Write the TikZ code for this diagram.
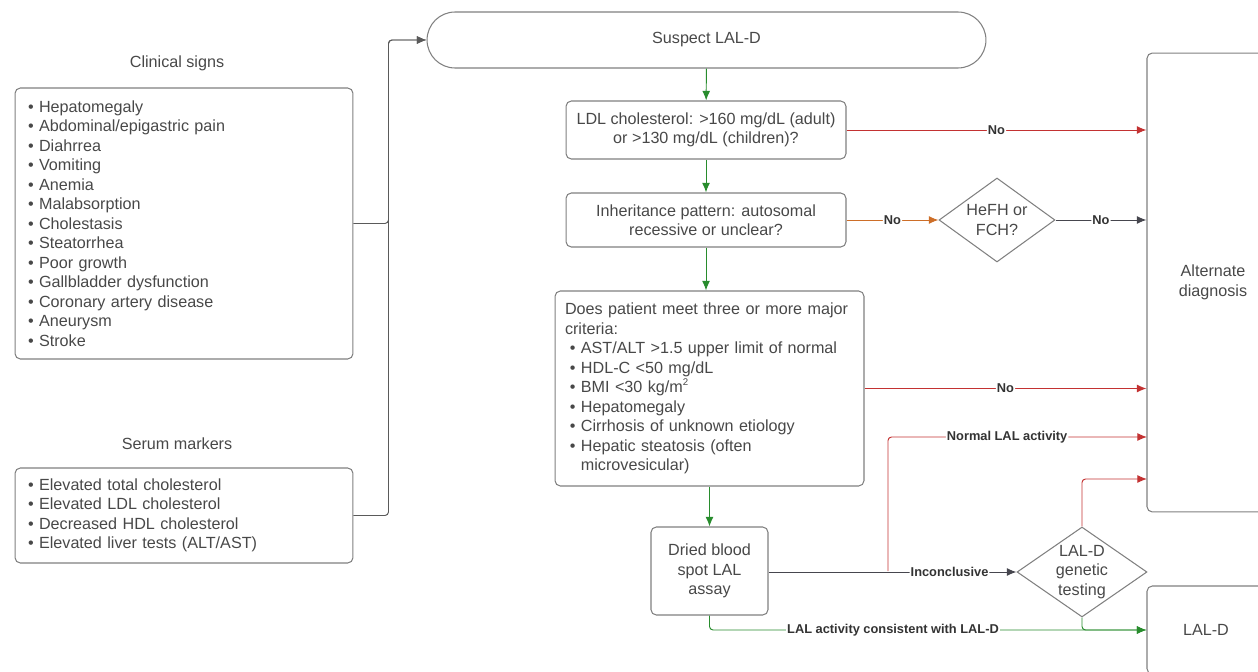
\documentclass[tikz,border=0pt]{standalone}
\usepackage{fontspec}
\setmainfont{Liberation Sans}
\usetikzlibrary{positioning,arrows.meta,shapes.geometric}
\definecolor{boxgray}{RGB}{128,128,128}
\definecolor{txtgray}{RGB}{72,72,72}
\definecolor{okgreen}{RGB}{40,140,45}
\definecolor{nored}{RGB}{195,50,50}
\definecolor{noorange}{RGB}{205,110,40}
\definecolor{linedark}{RGB}{70,70,78}
\begin{document}
\begin{tikzpicture}[x=0.02cm,y=-0.02cm, font=\fontsize{9.2}{11.1}\selectfont, text=txtgray,
 box/.style={draw=boxgray,rounded corners=3pt,line width=0.6pt,align=center,inner sep=0pt},
 list/.style={box,align=left,inner xsep=0.26cm},
 dec/.style={draw=boxgray,diamond,line width=0.6pt,align=center,inner sep=0pt},
 arr/.style={-{Latex[length=5.5pt,width=4.5pt]},line width=0.55pt,rounded corners=2pt},
 lab/.style={fill=white,font=\fontsize{7.3}{8}\selectfont\bfseries,text=black!80,inner sep=0.6pt}]
\useasboundingbox (0,0) rectangle (1258,672);
\clip (0,0) rectangle (1258,672);
\node (clintitle) at (177,63) {Clinical signs};
\node[list,text width=6.24cm,minimum height=5.42cm] (clin) at (184,223.5) {\textbullet\ Hepatomegaly\\\textbullet\ Abdominal/epigastric pain\\\textbullet\ Diahrrea\\\textbullet\ Vomiting\\\textbullet\ Anemia\\\textbullet\ Malabsorption\\\textbullet\ Cholestasis\\\textbullet\ Steatorrhea\\\textbullet\ Poor growth\\\textbullet\ Gallbladder dysfunction\\\textbullet\ Coronary artery disease\\\textbullet\ Aneurysm\\\textbullet\ Stroke};
\node (sertitle) at (177,444) {Serum markers};
\node[list,text width=6.24cm,minimum height=1.9cm] (ser) at (184,515.5) {\textbullet\ Elevated total cholesterol\\\textbullet\ Elevated LDL cholesterol\\\textbullet\ Decreased HDL cholesterol\\\textbullet\ Elevated liver tests (ALT/AST)};
\node[box,rounded corners=0.56cm,minimum width=11.18cm,minimum height=1.12cm] (sus) at (706.5,40) {Suspect LAL-D};
\node[box,minimum width=5.6cm,minimum height=1.16cm] (ldl) at (706,130) {LDL cholesterol: >160 mg/dL (adult)\\or >130 mg/dL (children)?};
\node[box,minimum width=5.6cm,minimum height=1.08cm] (inh) at (706,220) {Inheritance pattern: autosomal\\recessive or unclear?};
\node[dec,minimum width=2.32cm,minimum height=1.68cm,shape aspect=1.38] (fh) at (997,220) {HeFH or\\FCH?};
\node[list,inner xsep=0.2cm,text width=5.78cm,minimum height=3.9cm] (crit) at (709.5,388.5) {Does patient meet three or more major\\criteria:\\
\hspace*{0.3em}\textbullet\ AST/ALT >1.5 upper limit of normal\\
\hspace*{0.3em}\textbullet\ HDL-C <50 mg/dL\\
\hspace*{0.3em}\textbullet\ BMI <30 kg/m\raisebox{0.45em}{\fontsize{5.5}{6}\selectfont 2}\\
\hspace*{0.3em}\textbullet\ Hepatomegaly\\
\hspace*{0.3em}\textbullet\ Cirrhosis of unknown etiology\\
\hspace*{0.3em}\textbullet\ Hepatic steatosis (often\\
\hspace*{0.3em}\phantom{\textbullet\ }microvesicular)};
\node[box,minimum width=2.34cm,minimum height=1.76cm] (dbs) at (709.5,571) {Dried blood\\spot LAL\\assay};
\node[dec,minimum width=2.6cm,minimum height=1.8cm,shape aspect=1.44] (gen) at (1082,572) {LAL-D\\genetic\\testing};
\node[box,minimum width=2.64cm,minimum height=9.18cm] (alt) at (1213,282.5) {Alternate\\diagnosis};
\node[box,minimum width=2.36cm,minimum height=1.76cm] (lald) at (1206,630) {LAL-D};
\coordinate (altldl) at (alt.west |- ldl.east);
\coordinate (altfh) at (alt.west |- fh.east);
\coordinate (altcrit) at (alt.west |- crit.east);
\coordinate (altnorm) at (1147,437);
\coordinate (altgen) at (1147,479);
\coordinate (nsplit) at (888,571);
\draw[arr,draw=txtgray!90] (clin.east) -- ++(35,0) |- (sus.west);
\draw[arr,draw=txtgray!90] (ser.east) -- ++(35,0) |- (sus.west);
\draw[arr,okgreen] (sus) -- (ldl);
\draw[arr,okgreen] (ldl) -- (inh);
\draw[arr,okgreen] (inh) -- (inh |- crit.north);
\draw[arr,okgreen] (dbs |- crit.south) -- (dbs);
\draw[arr,nored] (ldl.east) -- node[lab] {No} (altldl);
\draw[arr,noorange] (inh.east |- fh.west) -- node[lab] {No} (fh.west);
\draw[arr,linedark] (fh.east) -- node[lab] {No} (altfh);
\draw[arr,nored] (crit.east) -- node[lab] {No} (altcrit);
\draw[arr,nored] (nsplit) |- node[lab,pos=0.73] {Normal LAL activity} (altnorm);
\draw[arr,linedark] (dbs.east |- gen.west) -- node[lab,pos=0.73] {Inconclusive} (gen.west);
\draw[arr,nored] (gen.north) |- (altgen);
\draw[arr,okgreen] (dbs.south) |- node[lab,pos=0.71] {LAL activity consistent with LAL-D} (lald.west);
\draw[arr,okgreen] (gen.south) |- (lald.west);
\end{tikzpicture}
\end{document}
